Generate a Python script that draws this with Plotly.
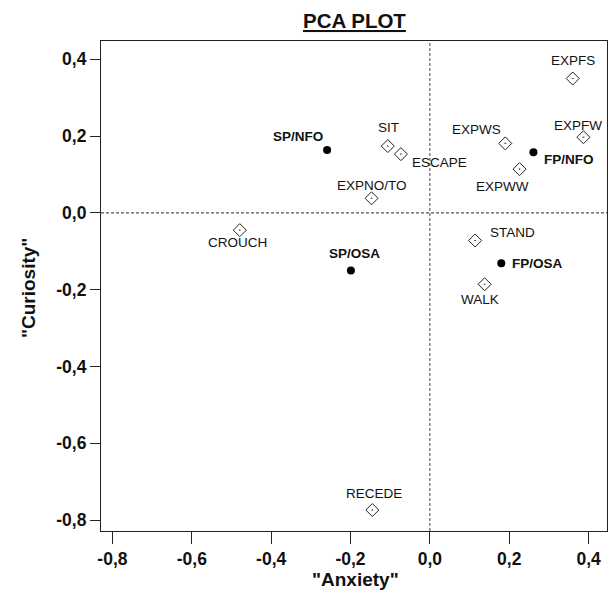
import plotly.graph_objects as go

# ---- data ----
behav_names = ["EXPFS", "EXPFW", "EXPWS", "EXPWW", "SIT", "ESCAPE", "EXPNO/TO",
               "CROUCH", "STAND", "WALK", "RECEDE"]
behav_x = [0.360, 0.387, 0.190, 0.226, -0.106, -0.073, -0.147, -0.479, 0.114, 0.138, -0.145]
behav_y = [0.350, 0.197, 0.181, 0.114, 0.174, 0.153, 0.038, -0.045, -0.072, -0.186, -0.774]

group_names = ["SP/NFO", "FP/NFO", "SP/OSA", "FP/OSA"]
group_x = [-0.259, 0.261, -0.199, 0.180]
group_y = [0.164, 0.158, -0.150, -0.131]

tick_vals = [-0.8, -0.6, -0.4, -0.2, 0.0, 0.2, 0.4]
tick_text = ["-0,8", "-0,6", "-0,4", "-0,2", "0,0", "0,2", "0,4"]

# ---- label placement (pixels: dx, dy-down, anchor) ----
label_pos = {
    "EXPFS": (0, -18, "center"),
    "EXPFW": (-5, -12, "center"),
    "EXPWS": (-29, -14, "center"),
    "EXPWW": (-17, 17, "center"),
    "SIT": (1, -19, "center"),
    "ESCAPE": (9, 8, "left"),
    "EXPNO/TO": (0, -13, "center"),
    "CROUCH": (-2, 12, "center"),
    "STAND": (13, -8, "left"),
    "WALK": (-5, 15, "center"),
    "RECEDE": (2, -17, "center"),
    "SP/NFO": (-29, -13, "center"),
    "FP/NFO": (9, 7, "left"),
    "SP/OSA": (4, -17, "center"),
    "FP/OSA": (9, 0, "left"),
}

FONT = "Liberation Sans, Arial, sans-serif"
L, R, T, B = 101, 5, 41, 65
PW, PH = 612 - L - R, 596 - T - B

fig = go.Figure()
fig.add_trace(go.Scatter(
    x=behav_x, y=behav_y, mode="markers",
    marker=dict(symbol="diamond-open-dot", size=10, color="#222",
                line=dict(width=1, color="#222")),
    hoverinfo="skip", showlegend=False))
fig.add_trace(go.Scatter(
    x=group_x, y=group_y, mode="markers",
    marker=dict(symbol="circle", size=8, color="black"),
    hoverinfo="skip", showlegend=False))

annotations = []
for n, x, y in zip(behav_names, behav_x, behav_y):
    dx, dy, anc = label_pos[n]
    annotations.append(dict(x=x, y=y, text=n, showarrow=False, xanchor=anc, yanchor="middle",
                            xshift=dx, yshift=-dy,
                            font=dict(family=FONT, size=13.5, color="#111")))
for n, x, y in zip(group_names, group_x, group_y):
    dx, dy, anc = label_pos[n]
    annotations.append(dict(x=x, y=y, text="<b>" + n + "</b>", showarrow=False, xanchor=anc,
                            yanchor="middle", xshift=dx, yshift=-dy,
                            font=dict(family=FONT, size=13.5, color="#111")))

# title and axis titles
annotations.append(dict(xref="paper", yref="paper", x=(354 - L) / PW, y=1 + (T - 21) / PH,
                        text="<u><b>PCA PLOT</b></u>", showarrow=False,
                        xanchor="center", yanchor="middle",
                        font=dict(family=FONT, size=20.5, color="#111")))
annotations.append(dict(xref="paper", yref="paper", x=(355 - L) / PW, y=-(579 - T - PH) / PH,
                        text='<b>"Anxiety"</b>', showarrow=False,
                        xanchor="center", yanchor="middle",
                        font=dict(family=FONT, size=19, color="#111")))
annotations.append(dict(xref="paper", yref="paper", x=-(L - 28) / PW, y=1 - (288 - T) / PH,
                        text='<b>"Curiosity"</b>', showarrow=False, textangle=-90,
                        xanchor="center", yanchor="middle",
                        font=dict(family=FONT, size=19, color="#111")))

fig.update_layout(
    width=612, height=596,
    margin=dict(l=L, r=R, t=T, b=B, autoexpand=False),
    paper_bgcolor="white", plot_bgcolor="white",
    annotations=annotations,
    shapes=[
        dict(type="line", xref="x", yref="paper", x0=0, x1=0, y0=0, y1=1,
             line=dict(color="#555", width=1.1, dash="3px,2px")),
        dict(type="line", xref="paper", yref="y", x0=0, x1=1, y0=0, y1=0,
             line=dict(color="#555", width=1.1, dash="3px,2px")),
    ],
)
axis_common = dict(showgrid=False, zeroline=False, showline=True, mirror=True,
                   linecolor="#222", linewidth=1.2, ticks="outside",
                   tickcolor="#222", tickwidth=1.2, automargin=False,
                   tickvals=tick_vals, ticktext=["<b>" + t + "</b>" for t in tick_text],
                   tickfont=dict(family=FONT, size=17.5, color="#111"))
fig.update_xaxes(range=[-0.8288, 0.4464], ticklen=12, **axis_common)
fig.update_yaxes(range=[-0.8286, 0.4477], ticklen=10, **axis_common)

fig.write_html("out.html", config={"displayModeBar": False},
               post_script="document.body.style.margin='0';document.body.style.padding='0';")
